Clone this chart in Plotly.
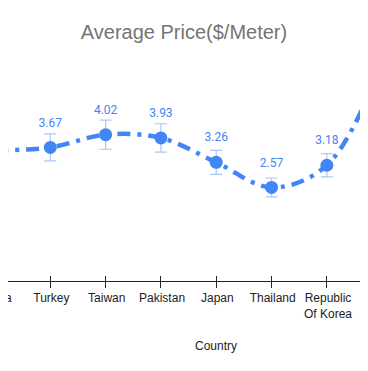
import plotly.graph_objects as go

countries = ["China", "Turkey", "Taiwan", "Pakistan", "Japan", "Thailand",
             "Republic<br>Of Korea", "India"]
prices = [3.59, 3.67, 4.02, 3.93, 3.26, 2.57, 3.18, 6.0]
errors = [0.36, 0.37, 0.40, 0.39, 0.33, 0.26, 0.32, 0.60]
labels = ["3.59", "3.67", "4.02", "3.93", "3.26", "2.57", "3.18", "6.00"]

BLUE = "#4285F4"
ERR = "#A9C7FA"
AX = "#222222"

idx = list(range(len(countries)))
W, H = 416, 363
PX = 55.31                # pixels per category
X0 = 13 / PX              # left range edge (category units)
SPAN = W / PX

fig = go.Figure()
fig.add_trace(go.Scatter(
    x=idx, y=prices, mode="lines+markers",
    line=dict(color=BLUE, width=4.5, shape="spline", smoothing=1,
              dash="13px,7px,4px,7px"),
    marker=dict(color=BLUE, size=13),
    error_y=dict(type="data", array=errors, color=ERR, thickness=1.2, width=6),
    cliponaxis=False, showlegend=False, hoverinfo="skip",
))
# data labels
fig.add_trace(go.Scatter(
    x=idx, y=prices, mode="markers+text", text=labels, textposition="top center",
    textfont=dict(family="Roboto, Arial", size=12, color=BLUE),
    marker=dict(size=27, opacity=0), cliponaxis=False,
    showlegend=False, hoverinfo="skip",
))
# helper traces so the overlay axes are drawn
for ax in ("x2", "x3"):
    fig.add_trace(go.Scatter(x=idx, y=prices, xaxis=ax, mode="markers",
                             marker=dict(size=1, opacity=0), showlegend=False,
                             hoverinfo="skip"))

fig.update_layout(
    width=W, height=H,
    margin=dict(l=0, r=0, t=52, b=90, autoexpand=False),
    paper_bgcolor="white", plot_bgcolor="white",
    title=dict(text="Average Price($/Meter)", x=176 / W, xanchor="center",
               y=1 - 24 / H, yanchor="middle",
               font=dict(family="Arial, Liberation Sans", size=20, color="#757575")),
    xaxis=dict(type="linear", range=[X0, X0 + SPAN], showgrid=False, zeroline=False,
               showline=True, linecolor=AX, linewidth=1, automargin=False,
               ticks="outside", ticklen=6, tickcolor=AX,
               tickmode="array", tickvals=idx, showticklabels=False),
    xaxis2=dict(type="linear", overlaying="x", anchor="y", side="bottom",
                range=[-0.002, SPAN - 0.002], showgrid=False, zeroline=False,
                showline=False, ticks="", tickmode="array", tickvals=idx,
                automargin=False, ticklabelstandoff=8,
                ticktext=countries, ticklabelshift=-12, ticklabeloverflow="allow",
                tickfont=dict(family="Arial, Liberation Sans", size=12, color=AX),
                title=dict(text="Country", standoff=22,
                           font=dict(family="Arial, Liberation Sans", size=12, color=AX))),
    xaxis3=dict(type="linear", overlaying="x", anchor="y", side="bottom",
                range=[X0, X0 + SPAN], showgrid=False, zeroline=False, showline=False,
                automargin=False,
                ticks="inside", ticklen=5, tickcolor=AX, tickmode="array",
                tickvals=idx, showticklabels=False),
    yaxis=dict(range=[0, 221 / 36.4], visible=False, fixedrange=True, automargin=False),
)

fig.write_html("out.html")
